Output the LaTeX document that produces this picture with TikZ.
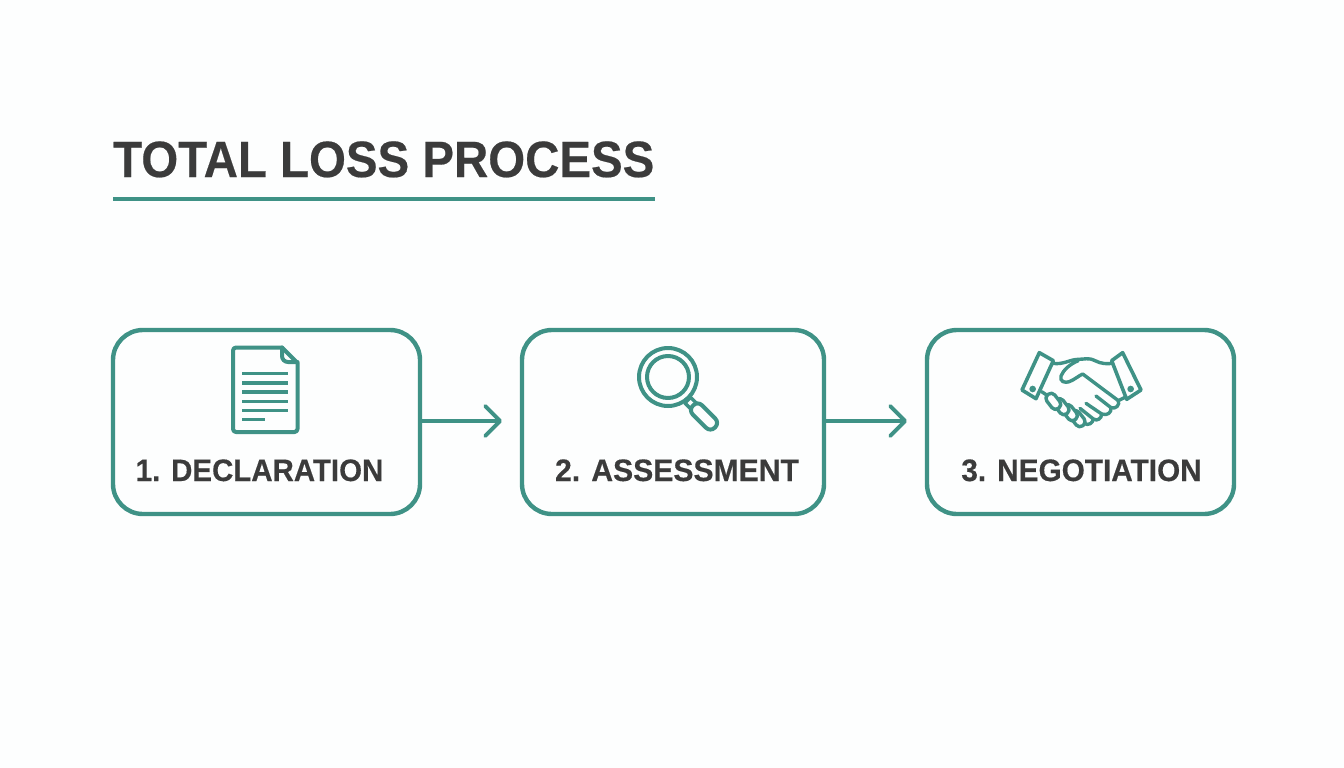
\documentclass[tikz,border=0pt]{standalone}
\usepackage{fontspec}
\setmainfont{Liberation Sans}
\usetikzlibrary{arrows.meta}
\definecolor{teal1}{HTML}{3F9286}
\definecolor{ink}{HTML}{3B3B3B}
\definecolor{bgc}{HTML}{FDFEFE}
\tikzset{
 card/.style={draw=teal1,line width=4.4pt,rounded corners=30pt,inner sep=0pt,outer sep=0pt,minimum height=184pt},
 lab/.style={text=ink,inner sep=0pt,anchor=base},
 conn/.style={draw=teal1,line width=3.8pt,line cap=round,-{Straight Barb[length=15pt,width=30pt,line width=3.8pt,round]}},
 ico/.style={draw=teal1,line width=4pt,line join=round,line cap=round},
 icot/.style={draw=teal1,line width=3.4pt,line join=round,line cap=round},
}
\newcommand{\labfont}[1]{\fontsize{31}{31}\selectfont\bfseries\addfontfeature{FakeStretch=#1,FakeBold=0.4}}
\begin{document}
\begin{tikzpicture}[x=1pt,y=-1pt]
\useasboundingbox[fill=bgc] (0,0) rectangle (1344,768);
% title
\node[text=ink,font=\fontsize{51}{51}\selectfont\bfseries\addfontfeature{FakeStretch=0.93,FakeBold=0.4},inner sep=0pt,anchor=base west] (title) at (113,177) {TOTAL LOSS PROCESS};
\coordinate (ulA) at (113,199);
\coordinate (ulB) at (655,199);
\draw[teal1,line width=4.4pt] (ulA) -- (ulB);
% cards
\node[card,minimum width=307pt] (box1) at (266.5,422) {};
\node[card,minimum width=302pt] (box2) at (673,422) {};
\node[card,minimum width=307pt] (box3) at (1080.5,422) {};
\node[lab,font=\labfont{0.95}] (l1) at (259.5,481) {1. DECLARATION};
\node[lab,font=\labfont{0.972}] (l2) at (677,481) {2. ASSESSMENT};
\node[lab,font=\labfont{0.96}] (l3) at (1081.5,481) {3. NEGOTIATION};
% connectors
\draw[conn] ([yshift=1pt]box1.east) -- ([xshift=-20pt,yshift=1pt]box2.west);
\draw[conn] ([yshift=1pt]box2.east) -- ([xshift=-20pt,yshift=1pt]box3.west);
% document icon
\draw[ico] (236,347.5) -- (282,347.5) -- (297.5,363) -- (297.5,429) arc (0:90:3) -- (236,432) arc (90:180:3) -- (233,350.5) arc (180:270:3) -- cycle;
\draw[ico] (282,347.5) -- (282,356) arc (180:90:6) -- (297.5,362);
\foreach \yy in {373.5,382.8,392,401.2,410.4}{\draw[teal1,line width=3.4pt] (242,\yy) -- (288,\yy);}
\draw[teal1,line width=3.4pt] (242,419.5) -- (265,419.5);
% magnifier
\draw[ico] (668,377) circle (29);
\draw[ico] (668,377) circle (21);
\begin{scope}[shift={(690.5,403)},rotate=-45]
\draw[icot] (-4,-4) rectangle (4,4);
\end{scope}
\begin{scope}[shift={(704,416.5)},rotate=-45]
\draw[ico,fill=bgc,rounded corners=6pt] (-15.5,-6.5) rectangle (15.5,6.5);
\end{scope}
% handshake, drawn in 3x crop coordinates
\begin{scope}[shift={(1010,340)},x=0.3333pt,y=-0.3333pt]
\draw[icot,line width=3.6pt] (88,38) -- (130,62) -- (78,176) -- (36,150) -- cycle;
\draw[icot,line width=3.6pt] (338,38) -- (305,62) -- (350,178) -- (393,150) -- cycle;
\fill[teal1] (68,147) circle (10) (362,147) circle (10);
\draw[icot] (128,70) .. controls (160,75) and (180,58) .. (205,58) .. controls (225,58) and (235,52) .. (255,62) .. controls (275,72) and (290,72) .. (308,70);
\draw[icot] (205,62) .. controls (180,72) and (160,90) .. (153,108) .. controls (148,125) and (165,130) .. (178,125) .. controls (195,118) and (205,108) .. (218,102) -- (325,182);
\draw[icot] (325,182) -- (345,172);
\draw[icot] (325,182) .. controls (330,195) and (318,208) .. (303,203) .. controls (305,218) and (292,228) .. (275,222) .. controls (275,235) and (262,245) .. (250,237) .. controls (248,250) and (235,258) .. (222,250) -- (205,237);
\draw[icot] (258,168) -- (303,203);
\draw[icot] (228,190) -- (275,222);
\draw[icot] (210,205) -- (250,237);
\draw[icot] (95,155) -- (110,165);
\foreach \cx/\cy in {203/236,180/218,155/200,130/184}{
 \begin{scope}[shift={(\cx,\cy)},rotate=-52]
 \draw[icot,fill=bgc,rounded corners=4.5pt] (-26,-15) rectangle (26,15);
 \end{scope}}
\end{scope}
\end{tikzpicture}
\end{document}
